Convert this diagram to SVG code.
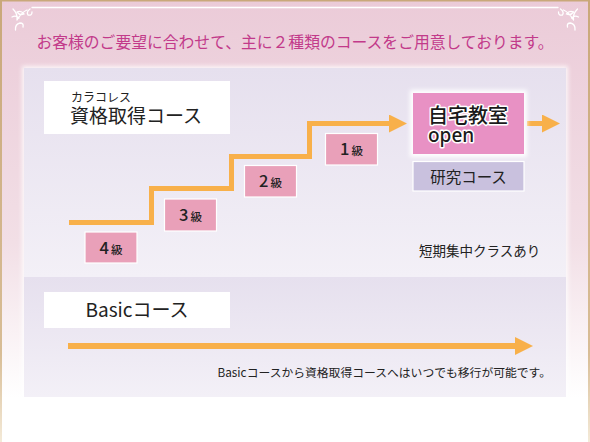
<svg xmlns="http://www.w3.org/2000/svg" width="590" height="442" viewBox="0 0 590 442">
<defs>
<linearGradient id="bg" x1="0" y1="0" x2="0" y2="1">
<stop offset="0" stop-color="#ebcbd8"/>
<stop offset="0.55" stop-color="#f2dfe6"/>
<stop offset="0.9" stop-color="#ffffff"/>
<stop offset="1" stop-color="#ffffff"/>
</linearGradient>
<linearGradient id="edge" x1="0" y1="0" x2="0" y2="1">
<stop offset="0" stop-color="#c9a87a"/>
<stop offset="0.8" stop-color="#d8bd96"/>
<stop offset="1" stop-color="#f4ead8"/>
</linearGradient>
<linearGradient id="frame" x1="0" y1="0" x2="0" y2="1">
<stop offset="0" stop-color="#ffffff" stop-opacity="1"/>
<stop offset="0.8" stop-color="#ffffff" stop-opacity="0.9"/>
<stop offset="1" stop-color="#ffffff" stop-opacity="0"/>
</linearGradient>
<linearGradient id="pan" x1="0" y1="0" x2="0" y2="1">
<stop offset="0" stop-color="#e6e0ee"/>
<stop offset="1" stop-color="#f3f0f7"/>
</linearGradient>
<filter id="glow" x="-10%" y="-10%" width="120%" height="120%">
<feGaussianBlur stdDeviation="2"/>
</filter>
<marker id="ah" viewBox="0 0 10 10" refX="0" refY="5" markerWidth="18" markerHeight="18" markerUnits="userSpaceOnUse" orient="auto">
<path d="M0,0 L10,5 L0,10 Z" fill="#f8b04a"/>
</marker>
<style>
.jp{font-family:"Noto Sans CJK JP","Noto Sans",sans-serif;}
.lvl{fill:#e9a0b9;stroke:#ffffff;stroke-width:1.2;}
.lvlt{font-family:"Noto Sans CJK JP","Noto Sans",sans-serif;fill:#222;font-size:16.5px;font-weight:500;text-anchor:middle;}
.kyu{font-size:11.5px;}
.org{fill:none;stroke:#f8b04a;stroke-width:5;}
.orn{fill:none;stroke:#ffffff;stroke-width:1.3;stroke-linecap:round;}
</style>
</defs>
<rect x="0" y="0" width="590" height="442" fill="url(#bg)"/>
<rect x="0" y="0" width="590" height="1.5" fill="#c9a87a"/>
<rect x="0" y="0" width="2" height="442" fill="url(#edge)"/>
<rect x="588" y="0" width="2" height="442" fill="url(#edge)"/>
<g id="frame-deco">
<path class="orn" d="M32,7.5 H558"/>
<path d="M15.5,26 V430" stroke="url(#frame)" stroke-width="1.3" fill="none"/>
<path d="M575,26 V430" stroke="url(#frame)" stroke-width="1.3" fill="none"/>
<path class="orn" d="M15.5,30 Q15,24 20,23 Q24,23 23,27"/>
<path class="orn" d="M13,9 Q18,14 17,20 M17,20 Q22,12 27,10 M17,12 Q20,16 24,14 Q21,10 17,12 M12,17 Q16,15 19,18 M30,9 Q26,12 28,15 Q32,16 32,12"/>
<path class="orn" d="M575,30 Q575.5,24 570.5,23 Q566.5,23 567.5,27"/>
<path class="orn" d="M577.5,9 Q572.5,14 573.5,20 M573.5,20 Q568.5,12 563.5,10 M573.5,12 Q570.5,16 566.5,14 Q569.5,10 573.5,12 M578.5,17 Q574.5,15 571.5,18 M560.5,9 Q564.5,12 562.5,15 Q558.5,16 558.5,12"/>
</g>
<text class="jp" x="295" y="48" font-size="15.8" fill="#c23a8a" text-anchor="middle">お客様のご要望に合わせて、主に２種類のコースをご用意しております。</text>
<rect x="22" y="66" width="546" height="334" fill="#ffffff" opacity="0.8" filter="url(#glow)"/>
<rect x="24" y="68" width="542" height="209" fill="url(#pan)"/>
<rect x="24" y="277" width="542" height="120" fill="url(#pan)"/>
<g id="label-shikaku">
<rect x="44" y="81" width="186" height="53" fill="#ffffff"/>
<text class="jp" x="71" y="102" font-size="12" fill="#222">カラコレス</text>
<text class="jp" x="70" y="123" font-size="19" fill="#222">資格取得コース</text>
</g>
<g id="connectors">
<path class="org" d="M69,222.5 H151.5 V188.5 H231.5 V156.5 H309.5 V123.5 H389" marker-end="url(#ah)"/>
<path d="M527,123.5 H542" stroke="#f8b04a" stroke-width="5" fill="none" marker-end="url(#ah)"/>
<path d="M68,346 H515" stroke="#f8b04a" stroke-width="6" fill="none" marker-end="url(#ah)"/>
</g>
<g id="kyu4"><rect class="lvl" x="85" y="232" width="52" height="31"/><text class="lvlt" x="111" y="253.5">4<tspan class="kyu" dx="2">級</tspan></text></g>
<g id="kyu3"><rect class="lvl" x="164.5" y="199" width="52" height="32"/><text class="lvlt" x="190.5" y="220.5">3<tspan class="kyu" dx="2">級</tspan></text></g>
<g id="kyu2"><rect class="lvl" x="244.5" y="165.5" width="52" height="31.5"/><text class="lvlt" x="270.5" y="187">2<tspan class="kyu" dx="2">級</tspan></text></g>
<g id="kyu1"><rect class="lvl" x="325.5" y="133.5" width="52" height="31.5"/><text class="lvlt" x="351.5" y="155">1<tspan class="kyu" dx="2">級</tspan></text></g>
<g id="jitaku">
<rect x="410" y="90" width="117" height="67" fill="#ffffff" filter="url(#glow)"/>
<rect x="413" y="93" width="111" height="61" fill="#e891c4"/>
<text class="jp" x="428" y="123" font-size="20" font-weight="500" fill="#1a1a1a" stroke="#ffffff" stroke-width="3" paint-order="stroke" stroke-linejoin="round">自宅教室</text>
<text x="428" y="142" font-family="Noto Sans, sans-serif" font-size="19" font-weight="500" fill="#1a1a1a" stroke="#ffffff" stroke-width="3" paint-order="stroke" stroke-linejoin="round">open</text>
</g>
<g id="kenkyu">
<rect x="413" y="161.5" width="111" height="29.5" fill="#c9c1de" stroke="#ffffff" stroke-width="1.2"/>
<text class="jp" x="468.5" y="182.5" font-size="15.5" fill="#222" text-anchor="middle">研究コース</text>
</g>
<text class="jp" x="419" y="256" font-size="13.5" fill="#222">短期集中クラスあり</text>
<g id="label-basic">
<rect x="44" y="292" width="186" height="36" fill="#ffffff"/>
<text class="jp" x="137" y="317" font-size="19" fill="#222" text-anchor="middle">Basicコース</text>
</g>
<text class="jp" x="551" y="377" font-size="11.8" fill="#222" text-anchor="end">Basicコースから資格取得コースへはいつでも移行が可能です。</text>
</svg>
